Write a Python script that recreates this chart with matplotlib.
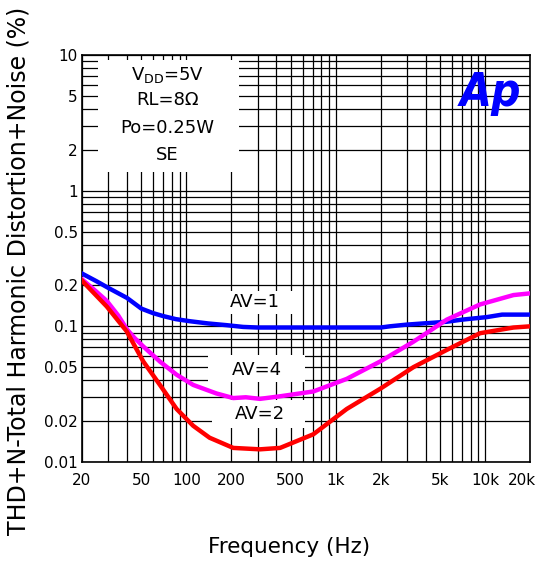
import matplotlib
matplotlib.use("Agg")
import matplotlib.pyplot as plt
import matplotlib.transforms as mtransforms
from matplotlib.ticker import FixedLocator, LogLocator, NullFormatter, FixedFormatter
from matplotlib.patches import Rectangle

# ---- data ----
freq_av1 = [20, 25, 30, 40, 50, 60, 70, 85, 106, 140, 186, 240, 300, 500, 1000, 2000, 2300, 3000, 5500, 7000, 10300, 13000, 20000]
thd_av1 = [0.245, 0.215, 0.192, 0.162, 0.135, 0.125, 0.119, 0.113, 0.109, 0.105, 0.102, 0.099, 0.098, 0.098, 0.098, 0.098, 0.100, 0.103, 0.108, 0.112, 0.117, 0.122, 0.122]

freq_av4 = [20, 25, 29.3, 35, 40, 45, 51.5, 66.5, 86, 111, 159, 206, 250, 311, 424, 708, 1186, 1982, 3313, 5540, 9260, 15500, 20000]
thd_av4 = [0.222, 0.18, 0.154, 0.12, 0.095, 0.082, 0.071, 0.055, 0.044, 0.037, 0.032, 0.0296, 0.030, 0.0292, 0.0305, 0.0331, 0.041, 0.055, 0.077, 0.112, 0.145, 0.170, 0.175]

freq_av2 = [20, 29.3, 39.8, 51.5, 66.5, 86, 111, 143, 206, 311, 424, 708, 1186, 1982, 3313, 5540, 9260, 15500, 20000]
thd_av2 = [0.217, 0.14, 0.092, 0.055, 0.037, 0.0246, 0.0185, 0.0151, 0.0127, 0.0124, 0.0127, 0.016, 0.0246, 0.0346, 0.050, 0.067, 0.089, 0.098, 0.100]

xticks = [20, 50, 100, 200, 500, 1000, 2000, 5000, 10000, 20000]
xtick_labels = ["20", "50", "100", "200", "500", "1k", "2k", "5k", "10k", "20k"]
yticks = [0.01, 0.02, 0.05, 0.1, 0.2, 0.5, 1, 2, 5, 10]
ytick_labels = ["0.01", "0.02", "0.05", "0.1", "0.2", "0.5", "1", "2", "5", "10"]

conditions = ["V$_{\\mathrm{DD}}$=5V", "RL=8\u03a9", "Po=0.25W", "SE"]

plt.rcParams['font.family'] = ['DejaVu Sans']

fig = plt.figure(figsize=(5.41, 5.71), dpi=100)
ax = fig.add_axes([82/541, 1 - 462/571, 448/541, 407/571])
ax.set_xscale('log')
ax.set_yscale('log')
ax.set_xlim(20, 20000)
ax.set_ylim(0.01, 10)

# grid: all decades, 1..9
ax.xaxis.set_major_locator(FixedLocator(xticks))
ax.xaxis.set_major_formatter(FixedFormatter(xtick_labels))
ax.xaxis.set_minor_locator(LogLocator(base=10, subs=range(1, 10), numticks=50))
ax.xaxis.set_minor_formatter(NullFormatter())
ax.yaxis.set_major_locator(FixedLocator(yticks))
ax.yaxis.set_major_formatter(FixedFormatter(ytick_labels))
ax.yaxis.set_minor_locator(LogLocator(base=10, subs=range(1, 10), numticks=50))
ax.yaxis.set_minor_formatter(NullFormatter())
ax.grid(True, which='both', color='black', linewidth=0.9)
ax.set_axisbelow(True)
ax.tick_params(which='both', length=0)
ax.tick_params(axis='x', labelsize=11, pad=8)
ax.tick_params(axis='y', labelsize=11, pad=3)
for s in ax.spines.values():
    s.set_linewidth(1.2)
    s.set_color('black')

# shift the last x tick label left so it stays inside the figure
last_tick = ax.xaxis.get_major_ticks()[-1]
last_tick.label1.set_transform(last_tick.label1.get_transform() +
                               mtransforms.ScaledTranslation(-6/72, 0, fig.dpi_scale_trans))

# white boxes (covering grid)
boxes = [
    (0.036, 0.7125, 0.350 - 0.036, 0.9877 - 0.7125),
    (0.297, 0.364, 0.475 - 0.297, 0.420 - 0.364),
    (0.281, 0.197, 0.498 - 0.281, 0.263 - 0.197),
    (0.290, 0.084, 0.498 - 0.290, 0.152 - 0.084),
]
for (bx, by, bw, bh) in boxes:
    ax.add_patch(Rectangle((bx, by), bw, bh, transform=ax.transAxes,
                           facecolor='white', edgecolor='none', zorder=1.5))

ax.plot(freq_av1, thd_av1, color='#0000ff', lw=3.2, zorder=3, solid_joinstyle='round')
ax.plot(freq_av4, thd_av4, color='#ff00ff', lw=3.2, zorder=3, solid_joinstyle='round')
ax.plot(freq_av2, thd_av2, color='#ff0000', lw=3.2, zorder=3, solid_joinstyle='round')

ax.text(0.386, 0.393, "AV=1", transform=ax.transAxes, ha='center', va='center', fontsize=13, zorder=4)
ax.text(0.391, 0.226, "AV=4", transform=ax.transAxes, ha='center', va='center', fontsize=13, zorder=4)
ax.text(0.397, 0.118, "AV=2", transform=ax.transAxes, ha='center', va='center', fontsize=13, zorder=4)

for txt, yy in zip(conditions, [0.951, 0.889, 0.821, 0.754]):
    ax.text(0.19, yy, txt, transform=ax.transAxes, ha='center', va='center', fontsize=13, zorder=4)

ax.text(0.912, 0.905, "Ap", transform=ax.transAxes, ha='center', va='center',
        fontsize=33, fontweight='bold', fontstyle='italic', fontstretch='condensed',
        color='#0000ff', zorder=4)

ax.set_xlabel("Frequency (Hz)", fontsize=15.5, labelpad=38)
ax.xaxis.set_label_coords(0.462, -0.185)
ax.set_ylabel("THD+N-Total Harmonic Distortion+Noise (%)", fontsize=17, labelpad=8)
ax.yaxis.set_label_coords(-0.115, 0.47)

fig.savefig("out.png", dpi=100)
